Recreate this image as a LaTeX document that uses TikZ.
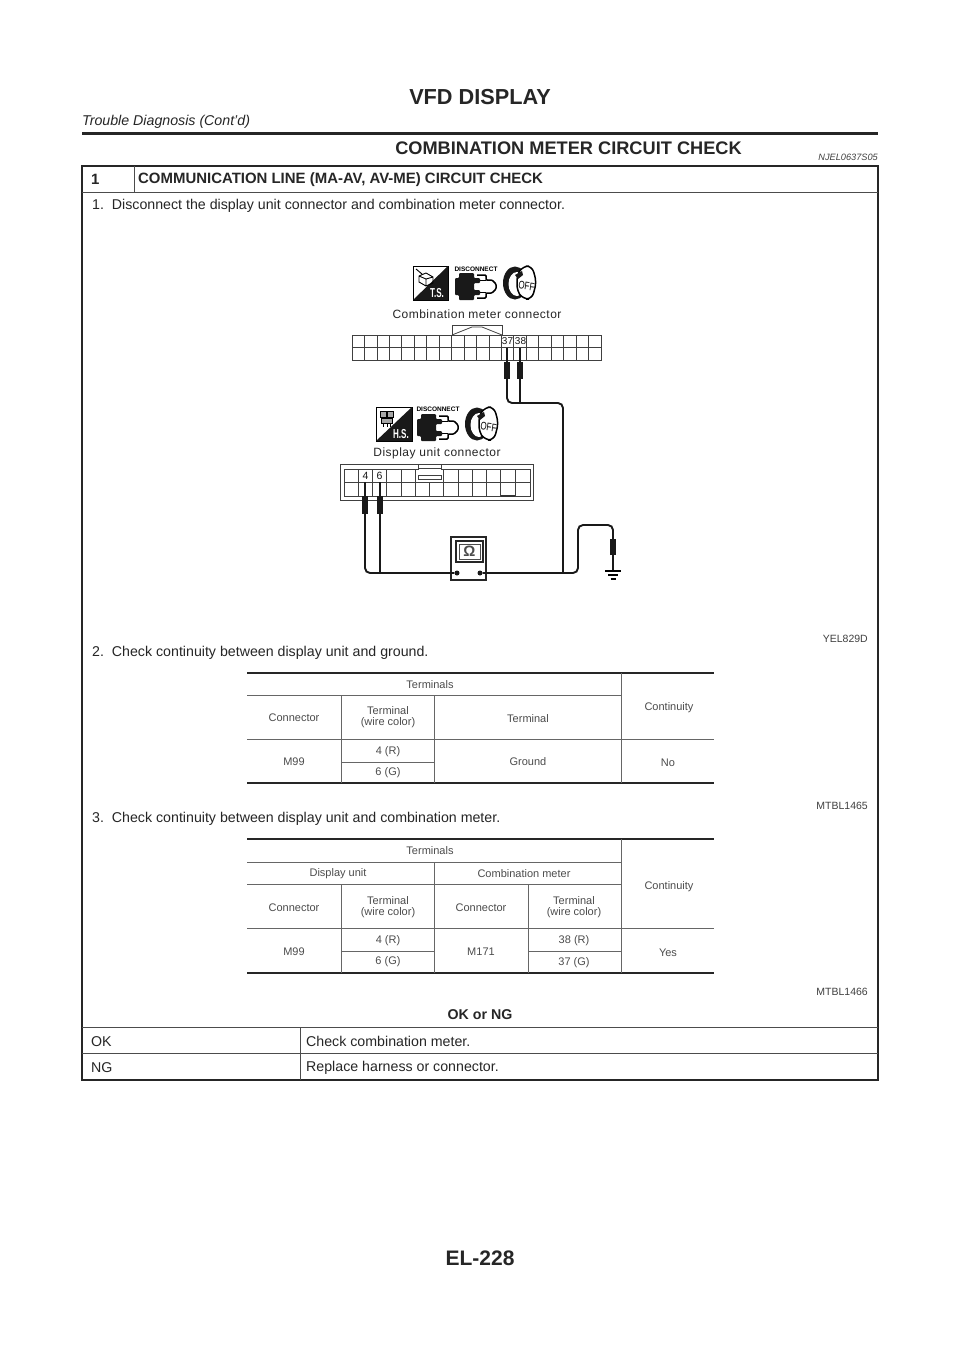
\documentclass[tikz,border=0pt]{standalone}
\usepackage{fontspec}
\setmainfont{Liberation Sans}
\newfontfamily\spacedfont{Liberation Sans}[LetterSpace=4]
\usetikzlibrary{positioning}

\tikzset{
	pagetext/.style={inner sep=0pt, text=black!85, font=\fontsize{14.2}{15}\selectfont},
	steptext/.style={pagetext, anchor=west, yshift=-1.5pt},
	headtext/.style={steptext, font=\bfseries\fontsize{14.95}{16}\selectfont},
	figcode/.style={inner sep=0pt, anchor=east, yshift=-0.8pt, text=black!75, font=\fontsize{10.5}{12}\selectfont},
	celltext/.style={inner sep=0pt, align=center, yshift=-0.6pt, text=black!70, font=\fontsize{11}{11}\selectfont},
	conntext/.style={inner sep=0pt, text=black!85, font=\spacedfont\fontsize{12}{13}\selectfont},
	pintext/.style={inner sep=0pt, fill=white, text=black!90},
	frameline/.style={line width=1.5pt, black!85},
	ruleline/.style={line width=0.9pt, black!70},
	tablerule/.style={line width=1.7pt, black!85},
	tableline/.style={line width=0.8pt, black!60},
	connline/.style={line width=0.8pt, black!75},
	wire/.style={line width=1.9pt, rounded corners=5pt, black!90},
	probe/.style={fill=black!90, inner sep=0pt, minimum width=5.5pt, minimum height=17pt},
	disctext/.style={inner sep=0pt, font=\bfseries\fontsize{6.5}{7}\selectfont},
	plugicon/.pic={
		\draw[line width=1.5pt, rounded corners=1pt, fill=white] (22,3) -- (31,3) -- (31,8) -- (37,8) -- (41,12) -- (41,17) -- (37,21) -- (31,21) -- (31,26) -- (22,26);
		\draw[line width=1.2pt] (25,8.5) -- (31,8.5) (25,20.5) -- (31,20.5);
		\fill[black!90, rounded corners=1pt] (0,6) -- (4,6) -- (4,1) -- (19,1) -- (19,6) -- (25,6) -- (25,11) -- (19,11) -- (19,18) -- (25,18) -- (25,23) -- (19,23) -- (19,28) -- (4,28) -- (4,23) -- (0,23) -- cycle;
	},
	keyicon/.pic={
		\fill[black!90] (12,17) ellipse (12pt and 16.5pt);
		\fill[white] (14,18) ellipse (8.5pt and 12pt);
		\draw[line width=1.5pt, fill=white, rounded corners=6pt] (14,9) -- (20,0) -- (29,0) -- (33.5,16) -- (29,33) -- (20,33) -- (14,25) -- cycle;
		\fill[black!90] (12,9) -- (19,5) -- (20,9) -- (15,13) -- cycle;
		\node[inner sep=0pt, rotate=-8, font=\fontsize{11}{11}\selectfont] (offtext) at (23.5,20) {\scalebox{0.72}[1]{OFF}};
	},
	tsicon/.pic={
		\draw[line width=1pt] (0,0) rectangle (35,34);
		\fill[black!90] (35,0) -- (35,34) -- (0,34) -- cycle;
		\node[inner sep=0pt, text=white, font=\bfseries\fontsize{13}{13}\selectfont] (tstext) at (24,27) {\scalebox{0.62}[1]{T.S.}};
		\draw[line width=0.9pt] (6,10) -- (13,7) -- (20,11) -- (20,17) -- (13,20) -- (6,16) -- cycle (6,10) -- (13,13) -- (20,11) (13,13) -- (13,20) (3,3) -- (9,8);
	},
	hsicon/.pic={
		\draw[line width=1pt] (0,0) rectangle (36,34);
		\fill[black!90] (36,0) -- (36,34) -- (0,34) -- cycle;
		\node[inner sep=0pt, text=white, font=\bfseries\fontsize{13}{13}\selectfont] (hstext) at (25,27) {\scalebox{0.62}[1]{H.S.}};
		\draw[line width=0.8pt, fill=black!35] (4,4) rectangle (10,10) (11,4) rectangle (17,10) (5,11) rectangle (16,16);
		\draw[line width=0.8pt] (7,16) -- (7,20) (11,16) -- (11,20) (14,16) -- (14,20);
	}
}

\begin{document}
\begin{tikzpicture}[x=1pt, y=-1pt]
	\useasboundingbox[fill=white] (0,0) rectangle (960,1358);

	% page heading
	\node[pagetext, font=\bfseries\fontsize{21.7}{23}\selectfont] (pagetitle) at (480,97) {VFD DISPLAY};
	\node[steptext, font=\itshape\fontsize{14.2}{15}\selectfont] (pagesub) at (82,120.5) {Trouble Diagnosis (Cont’d)};
	\draw[line width=3pt, black!85] (82,133.5) -- (878,133.5);
	\node[pagetext, font=\bfseries\fontsize{18.2}{20}\selectfont] (sectiontitle) at (568.5,148) {COMBINATION METER CIRCUIT CHECK};
	\node[figcode, font=\itshape\fontsize{9.2}{10}\selectfont] (sectioncode) at (878,157) {NJEL0637S05};
	\node[pagetext, font=\bfseries\fontsize{21}{23}\selectfont] (pagenum) at (480,1258) {EL-228};

	% frame and rows
	\draw[frameline] (82,166) rectangle (878,1080);
	\draw[ruleline] (82,192) -- (878,192);
	\draw[ruleline] (134,166) -- (134,192);
	\draw[ruleline] (82,1027.5) -- (878,1027.5);
	\draw[ruleline] (82,1053.5) -- (878,1053.5);
	\draw[ruleline] (300,1027.5) -- (300,1080);

	\node[headtext] (stepnum) at (91,178) {1};
	\node[headtext] (stephead) at (138,178) {COMMUNICATION LINE (MA-AV, AV-ME) CIRCUIT CHECK};
	\node[steptext] (stepa) at (92,204) {1.\ \ Disconnect the display unit connector and combination meter connector.};
	\node[figcode] (figa) at (868,638) {YEL829D};
	\node[steptext] (stepb) at (92,651) {2.\ \ Check continuity between display unit and ground.};
	\node[figcode] (figb) at (868,805) {MTBL1465};
	\node[steptext] (stepc) at (92,817) {3.\ \ Check continuity between display unit and combination meter.};
	\node[figcode] (figc) at (868,991) {MTBL1466};
	\node[pagetext, font=\bfseries\fontsize{14.2}{15}\selectfont] (oknghead) at (480,1015) {OK or NG};
	\node[steptext] (oklabel) at (91,1040) {OK};
	\node[steptext] (okaction) at (306,1040) {Check combination meter.};
	\node[steptext] (nglabel) at (91,1066) {NG};
	\node[steptext] (ngaction) at (306,1066) {Replace harness or connector.};

	% combination meter connector
	\pic at (413,266) {tsicon};
	\node[disctext] (disca) at (476,269.5) {DISCONNECT};
	\pic at (455,272) {plugicon};
	\pic at (503,266) {keyicon};
	\node[conntext] (metername) at (477,314) {Combination meter connector};
	\draw[connline] (452,335) -- (452,325) -- (502,325) -- (502,335);
	\draw[connline] (452,335) -- (472,327) -- (482,327) -- (502,335);
	\draw[connline] (352,335) rectangle (601,360);
	\draw[connline] (352,347.5) -- (601,347.5);
	\foreach \k in {1,...,19} {
		\draw[connline] ({352+12.45*\k},335) -- ({352+12.45*\k},360);
	}
	\node[pintext, font=\fontsize{10}{10}\selectfont] (labela) at (507.5,341.5) {37};
	\node[pintext, font=\fontsize{10}{10}\selectfont] (labelb) at (520.5,341.5) {38};

	% display unit connector
	\pic at (376,407) {hsicon};
	\node[disctext] (discb) at (438,409.5) {DISCONNECT};
	\pic at (417,413) {plugicon};
	\pic at (465,407) {keyicon};
	\node[conntext] (displayname) at (437,453) {Display unit connector};
	\draw[connline] (340,464) rectangle (533,500);
	\draw[connline] (344,469) -- (418,469) -- (418,468) -- (441,468) -- (441,469) -- (530,469) -- (530,496) -- (344,496) -- cycle;
	\draw[connline] (418,464) -- (418,468) (441,464) -- (441,468);
	\draw[connline] (344,482) -- (530,482);
	\draw[connline, fill=white] (418,475) rectangle (441,479);
	\foreach \k in {1,2,3,4,5,7,8,9,10,11,12} {
		\draw[connline] ({344+14.25*\k},469) -- ({344+14.25*\k},496);
	}
	\draw[connline] (429.5,482) -- (429.5,496);
	\draw[line width=1.2pt, black!80] (500.5,496) -- (515,496);
	\node[pintext, font=\fontsize{10.5}{11}\selectfont] (labelc) at (365.5,476) {4};
	\node[pintext, font=\fontsize{10.5}{11}\selectfont] (labeld) at (379.5,476) {6};

	% tester and wiring
	\coordinate (pina) at (507,348);
	\coordinate (pinb) at (520,348);
	\coordinate (pinc) at (365,482);
	\coordinate (pind) at (380,482);
	\coordinate (bendtop) at (563,403);
	\coordinate (bendlow) at (563,573);
	\coordinate (bendright) at (578,573);
	\coordinate (bendup) at (578,525);
	\coordinate (bendover) at (613,525);
	\coordinate (earth) at (613,570);

	\node[draw, line width=1.2pt, black!85, fill=white, inner sep=0pt, minimum width=35pt, minimum height=43pt] (meter) at (468.5,558.5) {};
	\node[draw, line width=1.2pt, black!85, inner sep=0pt, minimum width=27pt, minimum height=21pt] (screen) at (469.5,551.5) {};
	\node[draw, line width=0.8pt, black!70, inner sep=0pt, minimum width=21pt, minimum height=15pt, font=\bfseries\fontsize{15}{15}\selectfont] (ohm) at (469.5,551.5) {Ω};
	\node[circle, fill=black!90, inner sep=0pt, minimum size=5pt] (dotleft) at (457,573) {};
	\node[circle, fill=black!90, inner sep=0pt, minimum size=5pt] (dotright) at (480,573) {};

	\draw[wire] (pina) |- (bendtop) -- (bendlow);
	\draw[wire] (pinb) -- (pinb |- bendtop);
	\draw[wire] (pinc) |- (dotleft);
	\draw[wire] (pind) -- (pind |- dotleft);
	\draw[wire] (dotright) -- (bendright) -- (bendup) -- (bendover) -- (earth);

	\node[probe] (probea) at (507,370.5) {};
	\node[probe] (probeb) at (520,370.5) {};
	\node[probe, minimum height=18pt] (probec) at (365,505) {};
	\node[probe, minimum height=18pt] (probed) at (380,505) {};
	\node[probe, minimum height=16pt] (probee) at (613,547) {};

	\draw[line width=1.1pt] (605,571) -- (621,571);
	\draw[line width=1.1pt] (608,575) -- (618,575);
	\draw[line width=1.1pt] (610.5,579) -- (615.5,579);

	% first table
	\draw[tablerule] (247,673) -- (714,673);
	\draw[tablerule] (247,783) -- (714,783);
	\draw[tableline] (247,695) -- (621,695);
	\draw[tableline] (247,739) -- (714,739);
	\draw[tableline] (341,762) -- (434,762);
	\draw[tableline] (341,695) -- (341,783);
	\draw[tableline] (434,695) -- (434,783);
	\draw[tableline] (621,673) -- (621,783);

	\node[celltext] (terma) at (430,684) {Terminals};
	\node[celltext] (conta) at (669,707) {Continuity};
	\node[celltext] (conna) at (294,717.5) {Connector};
	\node[celltext] (wirea) at (388,717) {Terminal\\(wire color)};
	\node[celltext] (termb) at (528,718) {Terminal};
	\node[celltext] (parta) at (294,761.5) {M99};
	\node[celltext] (rowa) at (388,751) {4 (R)};
	\node[celltext] (rowb) at (388,772) {6 (G)};
	\node[celltext] (grnd) at (528,761) {Ground};
	\node[celltext] (resa) at (668,762) {No};

	% second table
	\draw[tablerule] (247,839) -- (714,839);
	\draw[tablerule] (247,973) -- (714,973);
	\draw[tableline] (247,862) -- (621,862);
	\draw[tableline] (247,884) -- (621,884);
	\draw[tableline] (247,928) -- (714,928);
	\draw[tableline] (341,951) -- (434,951);
	\draw[tableline] (528,951) -- (621,951);
	\draw[tableline] (341,884) -- (341,973);
	\draw[tableline] (434,862) -- (434,973);
	\draw[tableline] (528,884) -- (528,973);
	\draw[tableline] (621,839) -- (621,973);

	\node[celltext] (termc) at (430,850) {Terminals};
	\node[celltext] (contb) at (669,886) {Continuity};
	\node[celltext] (unitb) at (338,873) {Display unit};
	\node[celltext] (meterb) at (524,873) {Combination meter};
	\node[celltext] (connb) at (294,907) {Connector};
	\node[celltext] (wireb) at (388,907) {Terminal\\(wire color)};
	\node[celltext] (connc) at (481,907) {Connector};
	\node[celltext] (wirec) at (574,907) {Terminal\\(wire color)};
	\node[celltext] (partb) at (294,951) {M99};
	\node[celltext] (rowc) at (388,940) {4 (R)};
	\node[celltext] (rowd) at (388,961) {6 (G)};
	\node[celltext] (partc) at (481,951) {M171};
	\node[celltext] (rowe) at (574,940) {38 (R)};
	\node[celltext] (rowf) at (574,962) {37 (G)};
	\node[celltext] (resb) at (668,952) {Yes};

\end{tikzpicture}
\end{document}
